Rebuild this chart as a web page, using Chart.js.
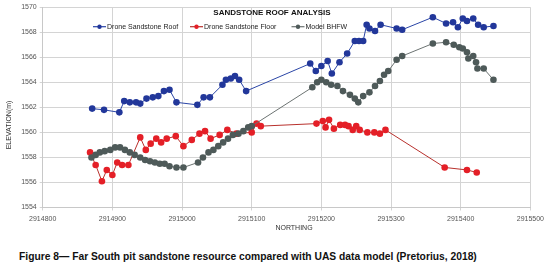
<!DOCTYPE html>
<html>
<head>
<meta charset="utf-8">
<script src="https://cdn.jsdelivr.net/npm/chart.js@4.4.1/dist/chart.umd.min.js"></script>
<style>
  html, body { margin: 0; padding: 0; background: #fff; }
  #wrap { position: relative; width: 548px; height: 263px; overflow: hidden; }
  #chart { position: absolute; left: 0; top: 0; }
  #caption {
    position: absolute; left: 19px; top: 250px;
    font: bold 11px "Liberation Sans Narrow", "Liberation Sans", sans-serif;
    color: #111; white-space: nowrap;
    transform: scaleX(0.935); transform-origin: left top;
  }
</style>
</head>
<body>
<div id="wrap">
  <canvas id="chart" width="548" height="240"></canvas>
  <div id="caption">Figure 8— Far South pit sandstone resource compared with UAS data model (Pretorius, 2018)</div>
</div>
<script>
// Chart data
const chartTitle = 'SANDSTONE ROOF ANALYSIS';
const xTitle = 'NORTHING';
const yTitle = 'ELEVATION(m)';
const seriesNames = ['Drone Sandstone Roof', 'Drone Sandstone Floor', 'Model BHFW'];
const xTicks = [2914800, 2914900, 2915000, 2915100, 2915200, 2915300, 2915400, 2915500];
const yTicks = [1554, 1556, 1558, 1560, 1562, 1564, 1566, 1568, 1570];

const roofNorthing = [2914871, 2914888, 2914910, 2914917, 2914925, 2914934, 2914940, 2914949, 2914958, 2914966,
  2914974, 2914982, 2914992, 2915022, 2915031, 2915040, 2915058, 2915063, 2915070, 2915076, 2915082, 2915092,
  2915184, 2915192, 2915200, 2915209, 2915215, 2915226, 2915237, 2915248, 2915254, 2915260, 2915265, 2915269,
  2915277, 2915285, 2915308, 2915316, 2915360, 2915379, 2915389, 2915396, 2915403, 2915409, 2915418, 2915425,
  2915433, 2915447];
const roofElev = [1561.9, 1561.8, 1561.6, 1562.5, 1562.4, 1562.4, 1562.3, 1562.7, 1562.8, 1562.9,
  1563.3, 1563.4, 1562.4, 1562.2, 1562.8, 1562.8, 1563.8, 1564.2, 1564.3, 1564.5, 1564.2, 1563.3,
  1565.5, 1564.9, 1565.3, 1565.7, 1564.7, 1565.6, 1566.3, 1567.3, 1567.3, 1567.3, 1568.6, 1568.3,
  1568.1, 1568.6, 1568.3, 1568.2, 1569.2, 1568.7, 1568.8, 1568.4, 1569.1, 1568.9, 1569.1, 1568.6,
  1568.4, 1568.5];

const floorNorthing = [2914868, 2914876, 2914885, 2914892, 2914900, 2914907, 2914914, 2914923, 2914940, 2914948,
  2914955, 2914963, 2914970, 2914978, 2914991, 2915002, 2915014, 2915025, 2915033, 2915041, 2915054, 2915065,
  2915078, 2915100, 2915107, 2915113, 2915193, 2915202, 2915206, 2915211, 2915218, 2915227, 2915234, 2915239,
  2915245, 2915250, 2915255, 2915266, 2915276, 2915284, 2915292, 2915377, 2915409, 2915423];
const floorElev = [1558.4, 1557.4, 1556.1, 1557.0, 1556.6, 1557.6, 1557.4, 1557.4, 1559.6, 1558.6,
  1559.1, 1559.5, 1559.2, 1559.5, 1559.7, 1558.9, 1559.4, 1559.9, 1560.1, 1559.5, 1559.8, 1560.2,
  1559.9, 1560.0, 1560.7, 1560.5, 1560.7, 1560.9, 1560.4, 1561.0, 1560.3, 1560.6, 1560.6, 1560.5,
  1560.2, 1560.5, 1560.2, 1560.0, 1560.0, 1559.9, 1560.2, 1557.2, 1557.0, 1556.8];

const modelNorthing = [2914870, 2914876, 2914882, 2914889, 2914897, 2914904, 2914911, 2914918, 2914925, 2914932,
  2914940, 2914947, 2914954, 2914961, 2914968, 2914975, 2914982, 2914992, 2915002, 2915023, 2915030, 2915038,
  2915045, 2915052, 2915059, 2915066, 2915073, 2915081, 2915088, 2915095, 2915100, 2915187, 2915194, 2915200,
  2915207, 2915214, 2915223, 2915231, 2915241, 2915248, 2915253, 2915260, 2915269, 2915277, 2915284, 2915290,
  2915296, 2915308, 2915316, 2915360, 2915379, 2915390, 2915398, 2915403, 2915409, 2915411, 2915418, 2915422,
  2915424, 2915433, 2915447];
const modelElev = [1558.0, 1558.2, 1558.4, 1558.5, 1558.6, 1558.8, 1558.8, 1558.6, 1558.4, 1558.2,
  1558.0, 1557.8, 1557.7, 1557.6, 1557.5, 1557.5, 1557.3, 1557.2, 1557.2, 1557.6, 1558.0, 1558.4,
  1558.6, 1558.9, 1559.2, 1559.5, 1559.8, 1559.9, 1560.1, 1560.4, 1560.5, 1563.6, 1564.0, 1564.2,
  1564.0, 1563.8, 1563.7, 1563.3, 1563.0, 1562.7, 1562.4, 1562.9, 1563.2, 1563.7, 1564.1, 1564.6,
  1564.9, 1565.8, 1566.1, 1567.1, 1567.2, 1567.0, 1566.8, 1566.7, 1566.4, 1565.9, 1566.1, 1565.6,
  1565.1, 1565.1, 1564.2];

const toPoints = (xs, ys) => xs.map((x, i) => ({ x: x, y: ys[i] }));

// colours: [line, marker]
const colours = [
  ['#2a45a6', '#22379a'],
  ['#b8302c', '#e41f27'],
  ['#6c7372', '#4e5a59']
];

const plotFont = '"Liberation Sans", Arial, sans-serif';

// title, legend and axis titles sit inside / around the plot like the original
const overlayText = {
  id: 'overlayText',
  afterDraw(chart) {
    const ctx = chart.ctx;
    ctx.save();
    ctx.fillStyle = '#111';
    ctx.font = 'bold 8px ' + plotFont;
    ctx.textAlign = 'center';
    ctx.textBaseline = 'middle';
    ctx.fillText(chartTitle, 272, 13);

    const legendX = [93, 190, 291.5];
    ctx.font = '7px ' + plotFont;
    ctx.textAlign = 'left';
    seriesNames.forEach((name, i) => {
      const x0 = legendX[i], y0 = 26.7;
      ctx.strokeStyle = colours[i][0];
      ctx.lineWidth = 1.2;
      ctx.beginPath();
      ctx.moveTo(x0, y0);
      ctx.lineTo(x0 + 13, y0);
      ctx.stroke();
      ctx.fillStyle = colours[i][1];
      ctx.beginPath();
      ctx.arc(x0 + 6.5, y0, 2.2, 0, Math.PI * 2);
      ctx.fill();
      ctx.fillStyle = '#222';
      ctx.fillText(name, x0 + 14, y0 + 0.5);
    });

    ctx.fillStyle = '#333';
    ctx.font = '7px ' + plotFont;
    ctx.textAlign = 'center';
    ctx.fillText(xTitle, 294, 228);

    ctx.translate(9, 125);
    ctx.rotate(-Math.PI / 2);
    ctx.fillText(yTitle, 0, 0);
    ctx.restore();
  }
};

const makeSet = (i, xs, ys, order) => ({
  label: seriesNames[i],
  data: toPoints(xs, ys),
  showLine: true,
  borderColor: colours[i][0],
  borderWidth: 1,
  pointBackgroundColor: colours[i][1],
  pointBorderColor: colours[i][1],
  pointBorderWidth: 0,
  pointRadius: 3.3,
  tension: 0,
  order: order
});

new Chart(document.getElementById('chart'), {
  type: 'scatter',
  data: {
    datasets: [
      makeSet(0, roofNorthing, roofElev, 1),
      makeSet(1, floorNorthing, floorElev, 2),
      makeSet(2, modelNorthing, modelElev, 0)
    ]
  },
  options: {
    responsive: false,
    animation: false,
    layout: { padding: { top: 5, right: 16, left: 0, bottom: 0 } },
    plugins: { legend: { display: false }, tooltip: { enabled: false }, title: { display: false } },
    scales: {
      x: {
        type: 'linear',
        min: xTicks[0],
        max: xTicks[xTicks.length - 1],
        afterBuildTicks: (scale) => { scale.ticks = xTicks.map(v => ({ value: v })); },
        afterFit: (scale) => { scale.height = 32.5; },
        ticks: {
          callback: (v) => String(v),
          color: '#555',
          font: { family: plotFont, size: 7 },
          maxRotation: 0,
          padding: 4
        },
        grid: { color: '#d4d4d4', tickLength: 3 },
        border: { color: '#c8c8c8' }
      },
      y: {
        min: yTicks[0],
        max: yTicks[yTicks.length - 1],
        afterBuildTicks: (scale) => { scale.ticks = yTicks.map(v => ({ value: v })); },
        afterFit: (scale) => { scale.width = 42.7; },
        ticks: {
          callback: (v) => String(v),
          color: '#555',
          font: { family: plotFont, size: 7 },
          padding: 3
        },
        grid: { color: '#d4d4d4', tickLength: 3 },
        border: { color: '#c8c8c8' }
      }
    }
  },
  plugins: [overlayText]
});
</script>
</body>
</html>
